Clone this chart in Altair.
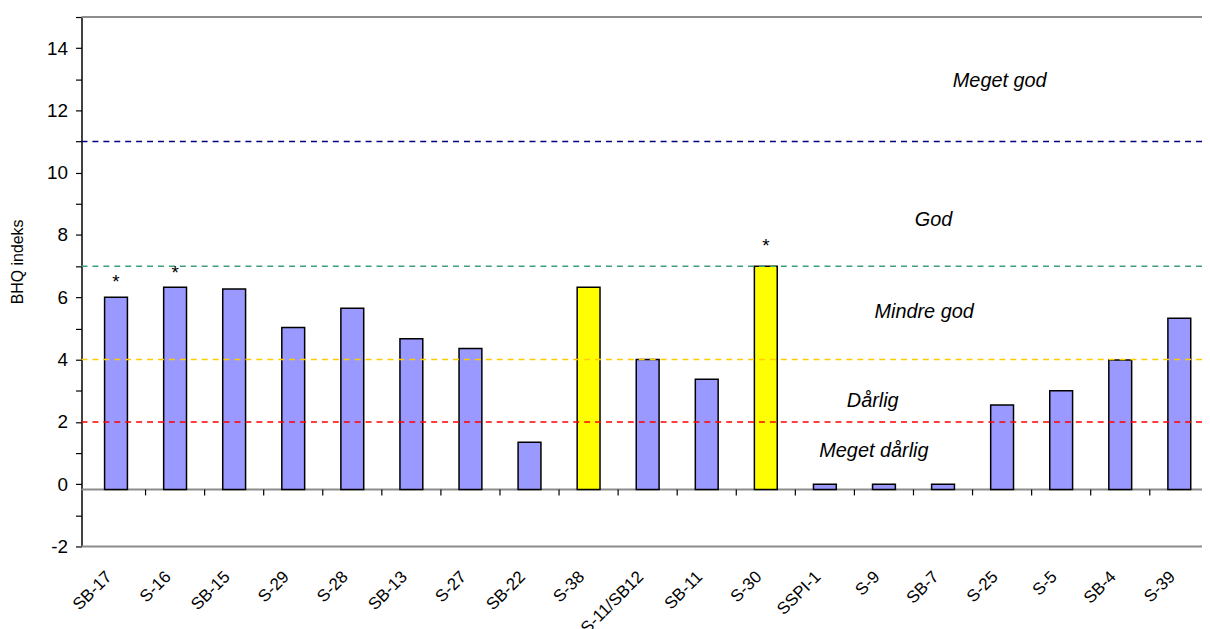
import altair as alt
import pandas as pd

# ---- data ----
categories = ["SB-17", "S-16", "SB-15", "S-29", "S-28", "SB-13", "S-27", "SB-22", "S-38",
              "S-11/SB12", "SB-11", "S-30", "SSPI-1", "S-9", "SB-7", "S-25", "S-5", "SB-4", "S-39"]
values = [6.0, 6.32, 6.27, 5.03, 5.65, 4.67, 4.36, 1.35, 6.32,
          4.0, 3.37, 7.0, 0.0, 0.0, 0.0, 2.54, 3.0, 3.99, 5.33]
highlight = ["n", "n", "n", "n", "n", "n", "n", "n", "y",
             "n", "n", "y", "n", "n", "n", "n", "n", "n", "n"]

star_cats = ["SB-17", "S-16", "S-30"]
star_y = [6.6, 6.87, 7.73]

thresholds = [11, 7, 4, 2]
threshold_names = ["t11", "t7", "t4", "t2"]
threshold_colors = ["#000080", "#3D9F77", "#FFCC00", "#FF0000"]

zone_labels = ["Meget god", "God", "Mindre god", "Dårlig", "Meget dårlig"]
zone_x = [14.96, 13.84, 13.68, 12.81, 12.83]
zone_y = [12.96, 8.49, 5.53, 2.68, 1.08]

axis_cross = -0.17          # where the category axis crosses the value axis
y_min, y_max = -2, 15

# ---- tables ----
idx = list(range(len(categories)))
bars = pd.DataFrame({"i": idx, "cat": categories, "v": values, "hl": highlight,
                     "base": [axis_cross] * len(idx)})
stars = pd.DataFrame({"i": [categories.index(c) for c in star_cats], "y": star_y, "t": ["*"] * len(star_cats)})
lines = pd.DataFrame({"y": thresholds, "name": threshold_names})
zones = pd.DataFrame({"x": zone_x, "y": zone_y, "t": zone_labels})
bounds = pd.DataFrame({"b": [k + 0.5 for k in idx[:-1]]})
frame = pd.DataFrame({"y": [y_min, y_max]})

font = "Liberation Sans"
label_js = "[" + ",".join("'" + c + "'" for c in categories) + "][datum.value]"

xscale = alt.Scale(domain=[-0.5, 18.3], nice=False, zero=False)
yscale = alt.Scale(domain=[y_min, y_max], nice=False, zero=False)

x_axis = alt.Axis(values=idx, labelExpr=label_js, title=None)
y_axis = alt.Axis(values=list(range(y_min, y_max + 1)),
                  labelExpr="datum.value % 2 == 0 && datum.value < 15 ? "
                            "(datum.value < 0 ? '-' + (-datum.value) : '' + datum.value) : ''",
                  title="BHQ indeks")

frame_lines = alt.Chart(frame).mark_rule(color="#8C8C8C", strokeWidth=2).encode(
    y=alt.Y("y:Q", scale=yscale, axis=y_axis))

base_line = alt.Chart(bars).mark_rule(color="#8C8C8C", strokeWidth=2).encode(
    y=alt.Y("mean(base):Q", scale=yscale, axis=y_axis))

bar_layer = alt.Chart(bars).mark_bar(width=23, stroke="black", strokeWidth=1.5).encode(
    x=alt.X("i:Q", scale=xscale, axis=x_axis),
    y=alt.Y("base:Q", scale=yscale, axis=y_axis),
    y2="v:Q",
    color=alt.Color("hl:N", scale=alt.Scale(domain=["n", "y"], range=["#9999FF", "#FFFF00"]),
                    legend=None),
)

ticks = alt.Chart(bounds).mark_rule(color="black", strokeWidth=1.2).encode(
    x=alt.X("b:Q", scale=xscale, axis=x_axis),
    y=alt.Y(datum=axis_cross, scale=yscale, axis=y_axis),
    y2=alt.Y2(datum=axis_cross - 0.19),
)

thr = alt.Chart(lines).mark_rule(strokeWidth=1.5, strokeDash=[6, 5]).encode(
    y=alt.Y("y:Q", scale=yscale, axis=y_axis),
    color=alt.Color("name:N", scale=alt.Scale(domain=threshold_names, range=threshold_colors),
                    legend=None),
)

star_layer = alt.Chart(stars).mark_text(fontSize=19, font=font, color="black",
                                        baseline="middle", dy=3).encode(
    x=alt.X("i:Q", scale=xscale, axis=x_axis), y=alt.Y("y:Q", scale=yscale, axis=y_axis), text="t:N")

zone_layer = alt.Chart(zones).mark_text(fontSize=20, font=font, fontStyle="italic",
                                        color="black", baseline="middle").encode(
    x=alt.X("x:Q", scale=xscale, axis=x_axis), y=alt.Y("y:Q", scale=yscale, axis=y_axis), text="t:N")

chart = alt.layer(frame_lines, base_line, bar_layer, ticks, thr, star_layer, zone_layer).resolve_scale(
    color="independent"
).properties(
    width=1128, height=533,
    autosize=alt.AutoSizeParams(type="none"),
    padding={"left": 74, "top": 7, "right": 0, "bottom": 81},
    background="white",
).configure_view(
    strokeOpacity=0, strokeWidth=0
).configure_axis(
    grid=False, labelFont=font, titleFont=font, labelColor="black", titleColor="black",
    labelOverlap=False, labelBound=False, labelFlush=False,
).configure_axisX(
    ticks=False, domain=False, labelAngle=-45, labelAlign="right", labelBaseline="top",
    labelFontSize=17, labelPadding=22, labelOffset=-13,
).configure_axisY(
    labelFontSize=19, labelPadding=8, tickColor="black", tickSize=6, tickWidth=1.2,
    domainColor="black", domainWidth=1.5, titleFontSize=16, titleFontWeight="normal",
    titleX=-64, titleY=246, titleBaseline="middle", titleAngle=270,
)

chart.save("out.html", embed_options={"renderer": "svg", "actions": False})
